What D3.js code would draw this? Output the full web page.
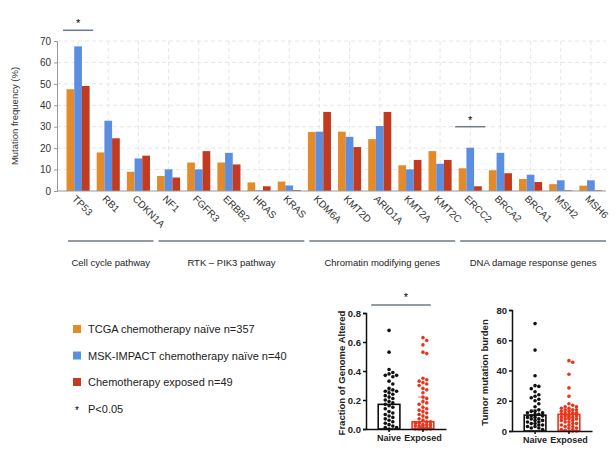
<!DOCTYPE html>
<html>
<head>
<meta charset="utf-8">
<script src="https://cdn.jsdelivr.net/npm/d3@7"></script>
<style>
body { margin: 0; background: #fff; }
svg { display: block; font-family: "Liberation Sans", Arial, sans-serif; }
</style>
</head>
<body>
<svg id="chart" width="616" height="462"></svg>
<script>
// --- data ---
const genes = ["TP53", "RB1", "CDKN1A", "NF1", "FGFR3", "ERBB2", "HRAS", "KRAS", "KDM6A",
    "KMT2D", "ARID1A", "KMT2A", "KMT2C", "ERCC2", "BRCA2", "BRCA1", "MSH2", "MSH6"];
const tcga    = [47.5, 18, 9, 7, 13.3, 13.3, 4, 4.4, 27.5, 27.7, 24.2, 12, 18.6, 10.6, 9.7, 5.6, 3.2, 2.5];
const msk     = [67.5, 32.8, 15.2, 10.1, 10.1, 17.8, 0.3, 2.6, 27.7, 25.3, 30.3, 10.1, 12.7, 20.2, 17.8, 7.6, 5, 5];
const exposed = [49, 24.6, 16.5, 6.3, 18.6, 12.4, 2.2, 0.4, 36.9, 20.5, 36.9, 14.5, 14.5, 2.2, 8.3, 4.2, 0.3, 0.3];
const seriesNames = ["TCGA chemotherapy naïve n=357", "MSK-IMPACT chemotherapy naïve n=40", "Chemotherapy exposed n=49"];
const seriesColors = ["#e38a2a", "#5b8de0", "#c23a1f"];

const sigGenes = ["TP53", "ERCC2"];
const sigLevels = [75, 30];

const pathwayNames = ["Cell cycle pathway", "RTK – PIK3 pathway", "Chromatin modifying genes", "DNA damage response genes"];
const pathwayFirst = ["TP53", "NF1", "KDM6A", "ERCC2"];
const pathwayLast = ["CDKN1A", "KRAS", "KMT2C", "MSH6"];

const groups = ["Naive", "Exposed"];
const fgaNaive = [0.68, 0.53, 0.41, 0.39, 0.38, 0.37, 0.37, 0.36, 0.33, 0.31, 0.28, 0.27, 0.26, 0.26, 0.25,
    0.24, 0.23, 0.22, 0.21, 0.20, 0.19, 0.18, 0.17, 0.16, 0.15, 0.14, 0.12, 0.11, 0.10, 0.09, 0.08, 0.07,
    0.06, 0.05, 0.04, 0.03, 0.02, 0.01, 0.01, 0.00];
const fgaExposed = [0.63, 0.61, 0.58, 0.53, 0.52, 0.35, 0.34, 0.33, 0.32, 0.31, 0.30, 0.28, 0.27, 0.25, 0.22,
    0.21, 0.19, 0.18, 0.17, 0.15, 0.14, 0.13, 0.12, 0.11, 0.10, 0.09, 0.08, 0.07, 0.06, 0.05, 0.05, 0.04,
    0.04, 0.03, 0.03, 0.03, 0.02, 0.02, 0.02, 0.01, 0.01, 0.01, 0.01, 0, 0, 0, 0, 0, 0];
const fgaBars = [0.17, 0.05];
const fgaErr = [0.265, 0.22];

const tmbNaive = [71, 53.5, 36.5, 30, 29.5, 28, 26, 24, 23, 22, 21, 20, 18, 16, 14, 13, 13, 12, 12, 11,
    11, 10, 10, 9, 9, 8, 8, 7, 7, 6, 6, 5, 5, 4, 4, 3, 3, 2, 2, 1];
const tmbExposed = [46.5, 45.5, 37.5, 28.5, 23, 18, 17, 16, 16, 15, 15, 14, 14, 14, 13, 13, 12, 12, 12, 11,
    11, 11, 10, 10, 10, 9, 9, 9, 8, 8, 8, 7, 7, 6, 6, 5, 5, 4, 4, 3, 3, 2, 2, 1, 1, 0.5, 0, 0, 0];
const tmbBars = [10.5, 11];
const tmbErr = [14, 14];

const svg = d3.select("#chart");
const lineGrey = "#6f7b89";

// ---------- grouped bar chart ----------
const x = d3.scaleBand().domain(genes).range([63, 606]);
const xs = d3.scaleBand().domain([0, 1, 2]).range([0, x.bandwidth()]).paddingOuter(0.46);
const y = d3.scaleLinear().domain([0, 70]).range([191, 41]);

const grid = svg.append("g")
    .attr("stroke", "#e6e6e6")
    .attr("stroke-dasharray", "4,3");

grid.selectAll(".h")
    .data(d3.range(10, 80, 10))
    .enter()
    .append("line")
    .attr("x1", 57).attr("x2", 606)
    .attr("y1", d => y(d)).attr("y2", d => y(d));

grid.selectAll(".v")
    .data(genes)
    .enter()
    .append("line")
    .attr("x1", d => x(d) + x.bandwidth() / 2)
    .attr("x2", d => x(d) + x.bandwidth() / 2)
    .attr("y1", y(70)).attr("y2", y(0));

const series = [tcga, msk, exposed];
series.forEach((vals, i) => {
    svg.append("g")
        .selectAll("rect")
        .data(genes)
        .enter()
        .append("rect")
        .attr("x", d => x(d) + xs(i))
        .attr("width", xs.bandwidth())
        .attr("y", (d, j) => y(vals[j]))
        .attr("height", (d, j) => y(0) - y(vals[j]))
        .attr("fill", seriesColors[i]);
});

const yAxis = svg.append("g")
    .attr("transform", "translate(57,0)")
    .call(d3.axisLeft(y).tickValues(d3.range(0, 80, 10)).tickSize(3).tickPadding(3));
yAxis.select(".domain").attr("stroke", "#999");
yAxis.selectAll(".tick line").attr("stroke", "#999");
yAxis.selectAll("text").attr("fill", "#333").style("font-size", "10px");

svg.append("line")
    .attr("x1", 57).attr("x2", 606)
    .attr("y1", y(0)).attr("y2", y(0))
    .attr("stroke", "#999");

svg.append("text")
    .attr("transform", `translate(18,${(y(0) + y(70)) / 2}) rotate(-90)`)
    .attr("text-anchor", "middle")
    .attr("fill", "#333")
    .style("font-size", "9.5px")
    .text("Mutation frequency (%)");

svg.append("g")
    .selectAll("text")
    .data(genes)
    .enter()
    .append("text")
    .attr("transform", d => `translate(${x(d) + x.bandwidth() / 2 - 4},${y(0) + 6}) rotate(45)`)
    .attr("dy", "0.35em")
    .attr("fill", "#333")
    .style("font-size", "10px")
    .text(d => d);

// significance marks
sigGenes.forEach((g, i) => {
    svg.append("line")
        .attr("x1", x(g)).attr("x2", x(g) + x.bandwidth())
        .attr("y1", y(sigLevels[i])).attr("y2", y(sigLevels[i]))
        .attr("stroke", lineGrey).attr("stroke-width", 1.5);
    svg.append("text")
        .attr("x", x(g) + x.bandwidth() / 2)
        .attr("y", y(sigLevels[i]) - 3)
        .attr("text-anchor", "middle")
        .style("font-size", "11px")
        .text("*");
});

// pathway brackets
pathwayNames.forEach((name, i) => {
    const x0 = x(pathwayFirst[i]) + 5;
    const x1 = x(pathwayLast[i]) + x.bandwidth();
    svg.append("line")
        .attr("x1", x0).attr("x2", x1)
        .attr("y1", 241).attr("y2", 241)
        .attr("stroke", lineGrey).attr("stroke-width", 1.5);
    svg.append("text")
        .attr("x", (x0 + x1) / 2)
        .attr("y", 266)
        .attr("text-anchor", "middle")
        .attr("fill", "#222")
        .style("font-size", "9.5px")
        .text(name);
});

// ---------- legend ----------
const legend = svg.append("g").attr("transform", "translate(73,325)");
seriesNames.forEach((name, i) => {
    legend.append("rect")
        .attr("x", 0).attr("y", i * 26.5)
        .attr("width", 8).attr("height", 8)
        .attr("fill", seriesColors[i]);
    legend.append("text")
        .attr("x", 15).attr("y", i * 26.5 + 8)
        .attr("fill", "#222")
        .style("font-size", "11px")
        .text(name);
});
legend.append("text")
    .attr("x", 4).attr("y", 3 * 26.5 + 9)
    .attr("text-anchor", "middle")
    .style("font-size", "10px")
    .text("*");
legend.append("text")
    .attr("x", 15).attr("y", 3 * 26.5 + 8)
    .attr("fill", "#222")
    .style("font-size", "11px")
    .text("P<0.05");

// ---------- dot plots ----------
// simple beeswarm, kept inside the bar width
function swarm(values, yScale, cx, r, half) {
    const placed = [];
    const step = r * 2.1;
    const n = Math.floor(half / step);
    values.slice().sort((a, b) => b - a).forEach(v => {
        const cy = yScale(v);
        let best = null, bestD = -1;
        for (let k = 0; k <= 2 * n; k++) {
            const px = cx + (k % 2 ? 1 : -1) * Math.ceil(k / 2) * step;
            const dmin = d3.min(placed, p => Math.hypot(p.x - px, p.y - cy)) ?? Infinity;
            if (dmin >= r * 2.05) { best = px; break; }
            if (dmin > bestD) { bestD = dmin; best = px; }
        }
        placed.push({ x: best, y: cy });
    });
    return placed;
}

function dotPlot(opt) {
    const g = svg.append("g");
    const yy = d3.scaleLinear().domain(opt.domain).range([opt.y0, opt.y1]);
    const xb = d3.scaleBand().domain(groups).range([opt.x0, opt.x0 + 80]).padding(0.36);
    const colors = ["#111", "#e8361d"];
    const errColors = ["#888", "#f28d7c"];
    const data = [opt.naive, opt.exposed];

    groups.forEach((grp, i) => {
        const cx = xb(grp) + xb.bandwidth() / 2;
        g.append("rect")
            .attr("x", xb(grp)).attr("width", xb.bandwidth())
            .attr("y", yy(opt.bars[i])).attr("height", yy(0) - yy(opt.bars[i]))
            .attr("fill", "none")
            .attr("stroke", colors[i]).attr("stroke-width", 1.6);
        g.append("line")
            .attr("x1", cx).attr("x2", cx)
            .attr("y1", yy(opt.bars[i])).attr("y2", yy(opt.err[i]))
            .attr("stroke", errColors[i]).attr("stroke-width", 1.2);
        g.append("line")
            .attr("x1", cx - 5).attr("x2", cx + 5)
            .attr("y1", yy(opt.err[i])).attr("y2", yy(opt.err[i]))
            .attr("stroke", errColors[i]).attr("stroke-width", 1.2);
        g.append("g")
            .selectAll("circle")
            .data(swarm(data[i], yy, cx, 1.8, xb.bandwidth() / 2))
            .enter()
            .append("circle")
            .attr("cx", d => d.x)
            .attr("cy", d => d.y)
            .attr("r", 1.8)
            .attr("fill", colors[i]);
    });

    const ax = g.append("g")
        .attr("transform", `translate(${opt.x0},0)`)
        .call(d3.axisLeft(yy).tickValues(opt.ticks).tickFormat(opt.fmt).tickSize(3).tickPadding(2));
    ax.selectAll("path, line").attr("stroke", "#111").attr("stroke-width", 1.5);
    ax.selectAll("text").attr("fill", "#222").style("font-size", "9.5px").style("font-weight", "bold");

    const bx = g.append("g")
        .attr("transform", `translate(0,${opt.y0})`)
        .call(d3.axisBottom(xb).tickSize(3).tickPadding(3).tickSizeOuter(0));
    bx.selectAll("path, line").attr("stroke", "#111").attr("stroke-width", 1.5);
    bx.selectAll("text").attr("fill", "#222").style("font-size", "9px").style("font-weight", "bold");

    g.append("text")
        .attr("transform", `translate(${opt.titleX},${(opt.y0 + opt.y1) / 2 + 2}) rotate(-90)`)
        .attr("text-anchor", "middle")
        .attr("fill", "#222")
        .style("font-size", "9.5px")
        .style("font-weight", "bold")
        .text(opt.title);
    return { xb, yy };
}

const fga = dotPlot({
    x0: 366, y0: 429, y1: 313, domain: [0, 0.8], ticks: [0, 0.2, 0.4, 0.6, 0.8],
    fmt: d3.format(".1f"), naive: fgaNaive, exposed: fgaExposed, bars: fgaBars, err: fgaErr,
    title: "Fraction of Genome Altered", titleX: 345
});

dotPlot({
    x0: 512, y0: 431, y1: 310, domain: [0, 80], ticks: [0, 20, 40, 60, 80],
    fmt: d3.format("d"), naive: tmbNaive, exposed: tmbExposed, bars: tmbBars, err: tmbErr,
    title: "Tumor mutation burden", titleX: 488
});

// FGA significance bracket
svg.append("line")
    .attr("x1", fga.xb("Naive") - 7).attr("x2", fga.xb("Exposed") + fga.xb.bandwidth() - 3)
    .attr("y1", 305).attr("y2", 305)
    .attr("stroke", lineGrey).attr("stroke-width", 1.5);
svg.append("text")
    .attr("x", 406).attr("y", 301)
    .attr("text-anchor", "middle")
    .style("font-size", "11px")
    .text("*");
</script>
</body>
</html>
